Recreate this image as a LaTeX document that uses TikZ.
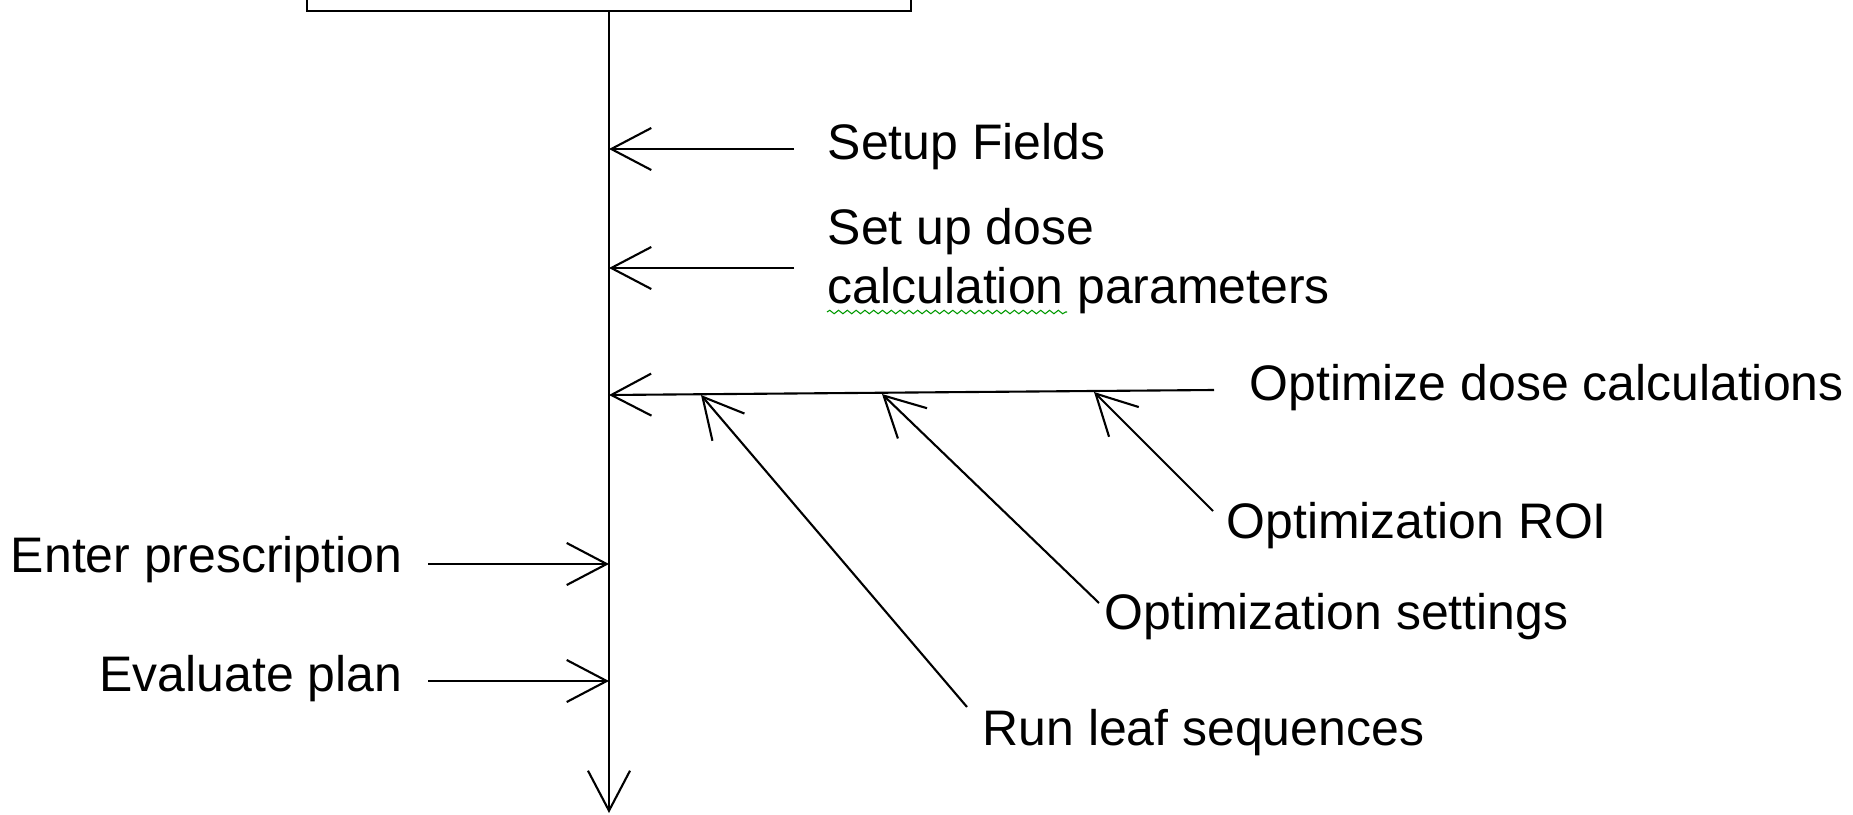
\documentclass[tikz,border=0pt]{standalone}
\usepackage{fontspec}
\setmainfont{Liberation Sans}
\usetikzlibrary{arrows.meta,decorations.pathmorphing}

\tikzset{
  lbl/.style={font=\fontsize{14.2}{17}\selectfont, inner sep=0pt},
  flow/.style={line width=0.6pt},
}

\begin{document}
\begin{tikzpicture}[x=0.01cm, y=-0.01cm, >={Straight Barb[length=0.4cm,width=0.42cm]}]
    \clip (0,0) rectangle (1853,815);
    % box at the top, cut by the page edge
    \node[draw, flow, minimum width=6.04cm, minimum height=1cm, anchor=south] (box) at (609,12) {};
    % main line
    \coordinate (bottom) at (609,813);
    \draw[flow,->] (box.south) -- (bottom);
    \coordinate (t1) at (609,149);
    \coordinate (t2) at (609,268);
    \coordinate (t3) at (609,395);
    \coordinate (t4) at (609,564);
    \coordinate (t5) at (609,681);
    % labels
    \node[lbl, anchor=west] (setup) at (827,147) {Setup Fields};
    \node[lbl, anchor=west, align=left] (dose) at (827,261) {Set up dose\\calculation parameters};
    \node[lbl, anchor=west] (opt) at (1249,388) {Optimize dose calculations};
    \node[lbl, anchor=west] (roi) at (1226,526) {Optimization ROI};
    \node[lbl, anchor=west] (sett) at (1104,617) {Optimization settings};
    \node[lbl, anchor=west] (leaf) at (982,733) {Run leaf sequences};
    \node[lbl, anchor=east] (presc) at (403,560) {Enter prescription};
    \node[lbl, anchor=east] (eval) at (403,679) {Evaluate plan};
    % spelling mark
    \draw[green!60!black, line width=0.3pt, decorate, decoration={snake, amplitude=0.5pt, segment length=2.5pt}] (827,312) -- (1067,312);
    % arrows into the main line
    \coordinate (s1) at (794,149);
    \coordinate (s2) at (794,268);
    \coordinate (s3) at (1214,390);
    \coordinate (s4) at (428,564);
    \coordinate (s5) at (428,681);
    \draw[flow,->] (s1) -- (t1);
    \draw[flow,->] (s2) -- (t2);
    \draw[flow,->] (s3) -- (t3);
    \draw[flow,->] (s4) -- (t4);
    \draw[flow,->] (s5) -- (t5);
    % arrows onto the optimize line
    \coordinate (o1) at (701,395);
    \coordinate (o2) at (882,394);
    \coordinate (o3) at (1094,392);
    \coordinate (r1) at (967,707);
    \coordinate (r2) at (1099,603);
    \coordinate (r3) at (1213,511);
    \draw[flow,->] (r1) -- (o1);
    \draw[flow,->] (r2) -- (o2);
    \draw[flow,->] (r3) -- (o3);
\end{tikzpicture}
\end{document}
